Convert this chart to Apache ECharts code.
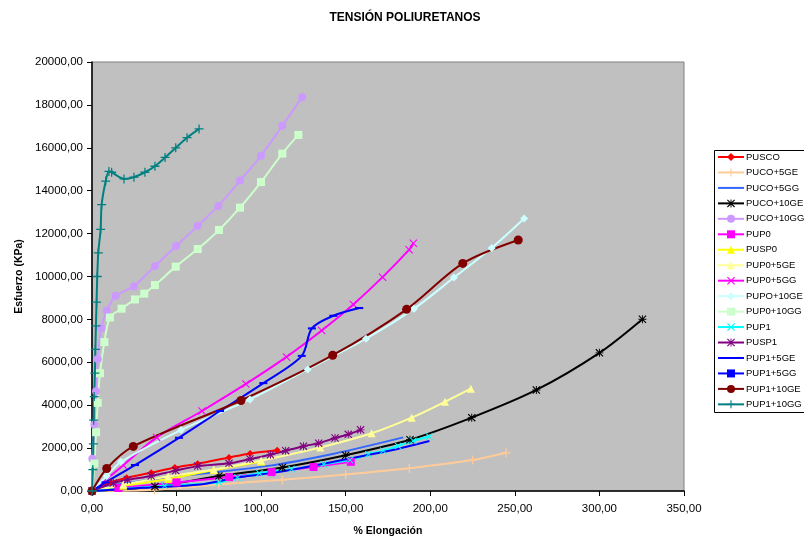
<!DOCTYPE html>
<html>
<head>
<meta charset="utf-8">
<script src="https://cdn.jsdelivr.net/npm/echarts@6/dist/echarts.min.js"></script>
<style>
  html, body { margin: 0; padding: 0; background: #ffffff; }
  #chart { width: 804px; height: 542px; }
</style>
</head>
<body>
<div id="chart"></div>
<script>
// Tensile curves for the polyurethane samples: [% elongation, stress in KPa]
const PUSCO      = [[0,0],[11,400],[20.5,620],[35,850],[49,1100],[62.5,1270],[81,1560],[93.5,1750],[109.5,1900]];
const PUCO_5GE   = [[0,0],[37,60],[75,300],[112.5,530],[150,770],[187.6,1060],[225,1440],[244.8,1780]];
const PUCO_5GG   = [[0,0],[15,300],[50,680],[103,1160],[143,1740],[184,2500]];
const PUCO_10GE  = [[0,0],[37.2,210],[75,700],[112.5,1100],[150,1670],[188,2390],[224.5,3420],[262.7,4710],[300,6440],[325.4,8010]];
const PUCO_10GG  = [[0,0],[0.2,1500],[1.4,3100],[2.4,4650],[3.4,6150],[5.5,7600],[8.7,8400],[14,9100],[24.8,9550],[37.2,10490],[49.7,11420],[62.5,12370],[74.7,13290],[87.5,14470],[99.9,15630],[112.5,17030],[124.3,18360]];
const PUP0       = [[0,0],[15.6,140],[50,400],[81,650],[106.2,880],[131,1120],[153,1360]];
const PUSP0      = [[0,0],[18.5,240],[45,560],[72,980],[100,1380]];
const PUP0_5GE   = [[0,0],[18.5,300],[45,680],[72,1000],[100,1420],[135,2030],[165.3,2690],[189,3420],[208.7,4160],[224,4770]];
const PUP0_5GG   = [[0,0],[18.5,1200],[38.2,2500],[65,3730],[91,4990],[115,6250],[135.8,7480],[154.5,8700],[171.8,9970],[187.5,11250],[190,11550]];
const PUPO_10GE  = [[0,0],[8.7,700],[17.1,1360],[52.6,2840],[93.4,4270],[127.5,5670],[162,7100],[190.4,8500],[214,9950],[236.3,11330],[255.5,12700]];
const PUP0_10GG  = [[0,0],[1.4,1280],[2.4,2740],[3.4,4110],[4.7,5490],[7.3,6940],[10.6,8090],[17.5,8500],[25.4,8930],[30.9,9200],[37.2,9600],[49.5,10460],[62.5,11280],[75.1,12170],[87.5,13210],[99.9,14400],[112.5,15730],[122,16600]];
const PUP1       = [[0,0],[43,240],[75,400],[86,630],[99,830],[118,1020],[137,1250],[152.5,1440],[163.4,1710],[172.2,1880],[181,2100],[190,2340],[199.4,2540]];
const PUSP1      = [[0,0],[12.6,370],[21,520],[35,700],[49.5,950],[62.5,1160],[81,1290],[93.4,1490],[105.5,1690],[114.5,1880],[125,2090],[134,2230],[143.7,2470],[151.5,2640],[158.8,2850]];
const PUP1_5GE   = [[0,0],[30,150],[64,300],[87.5,650],[110,880],[142.7,1360],[162.4,1670],[180,1950],[199.5,2330]];
const PUP1_5GG   = [[0,0],[8,400],[25.4,1210],[51.4,2480],[75.7,3730],[101.3,5030],[124,6300],[130,7580],[142.7,8170],[158,8530]];
const PUP1_10GE  = [[0,0],[8.7,1050],[24.4,2080],[88.1,4220],[142.3,6330],[186,8470],[219.2,10610],[252,11700]];
const PUP1_10GG  = [[0,0],[0.5,1000],[0.8,2200],[1,3300],[1.3,4400],[1.7,5500],[2,6600],[2.3,7700],[2.7,8800],[3.1,10000],[3.7,11100],[5.1,12200],[5.7,13350],[8.1,14450],[10,14900],[11.6,14860],[18.9,14550],[24.8,14630],[31.3,14860],[37.2,15140],[43.2,15550],[49.5,16000],[56.2,16470],[63.3,16880]];

const xTickLabels = ['0,00','50,00','100,00','150,00','200,00','250,00','300,00','350,00'];
const yTickLabels = ['0,00','2000,00','4000,00','6000,00','8000,00','10000,00','12000,00','14000,00','16000,00','18000,00','20000,00'];

// Marker shapes drawn as filled outlines
const SYM_PLUS  = 'path://M4.3,0h1.4v4.3h4.3v1.4h-4.3v4.3h-1.4v-4.3h-4.3v-1.4h4.3z';
const SYM_CROSS = 'path://M0,1L1,0L10,9L9,10Z M9,0L10,1L1,10L0,9Z';
const SYM_STAR  = 'path://M0,1L1,0L10,9L9,10Z M9,0L10,1L1,10L0,9Z M4.4,0h1.2v10h-1.2z M0,4.4h10v1.2h-10z';
const SYM_DASH  = 'path://M0,0h10v2.6h-10z';
// Plain lines: an empty box with a speck in the middle, so the legend shows only the stroke
const SYM_NONE  = 'path://M0,0M10,10M5,5L5.01,5L5.01,5.01Z';

const FONT = '"Liberation Sans", Arial, sans-serif';

function curve(name, data, color, symbol, size) {
  const plain = symbol === null;
  return {
    name: name,
    type: 'line',
    data: data,
    smooth: 0.3,
    symbol: plain ? SYM_NONE : symbol,
    symbolSize: plain ? 1 : size,
    symbolKeepAspect: true,
    showSymbol: !plain,
    lineStyle: { color: color, width: 2 },
    itemStyle: { color: color, borderWidth: 0 },
    emphasis: { disabled: true },
    animation: false
  };
}

const series = [
  curve('PUSCO',      PUSCO,     '#FF0000', 'diamond', 7),
  curve('PUCO+5GE',   PUCO_5GE,  '#FFCC99', SYM_PLUS, 9),
  curve('PUCO+5GG',   PUCO_5GG,  '#3366FF', null, 0),
  curve('PUCO+10GE',  PUCO_10GE, '#000000', SYM_STAR, 8),
  curve('PUCO+10GG',  PUCO_10GG, '#CC99FF', 'circle', 8),
  curve('PUP0',       PUP0,      '#FF00FF', 'rect', 8),
  curve('PUSP0',      PUSP0,     '#FFFF00', 'triangle', 8),
  curve('PUP0+5GE',   PUP0_5GE,  '#FFFF99', 'triangle', 8),
  curve('PUP0+5GG',   PUP0_5GG,  '#FF00FF', SYM_CROSS, 8),
  curve('PUPO+10GE',  PUPO_10GE, '#CCFFFF', 'diamond', 8),
  curve('PUP0+10GG',  PUP0_10GG, '#CCFFCC', 'rect', 8),
  curve('PUP1',       PUP1,      '#00FFFF', SYM_CROSS, 7),
  curve('PUSP1',      PUSP1,     '#800080', SYM_STAR, 8),
  curve('PUP1+5GE',   PUP1_5GE,  '#0000FF', null, 0),
  curve('PUP1+5GG',   PUP1_5GG,  '#0000FF', SYM_DASH, 8),
  curve('PUP1+10GE',  PUP1_10GE, '#800000', 'circle', 9),
  curve('PUP1+10GG',  PUP1_10GG, '#008080', SYM_PLUS, 9)
];

const chart = echarts.init(document.getElementById('chart'), null, { renderer: 'canvas' });
chart.setOption({
  backgroundColor: '#FFFFFF',
  animation: false,
  textStyle: { fontFamily: FONT },
  graphic: [{
    type: 'text',
    x: 405, y: 18,
    style: {
      text: 'TENSIÓN POLIURETANOS',
      font: 'bold 12px ' + FONT,
      fill: '#000000',
      align: 'center',
      verticalAlign: 'middle'
    }
  }, {
    // legend frame, running past the right edge of the canvas
    type: 'rect',
    z: -1,
    shape: { x: 714.5, y: 150.5, width: 140, height: 262 },
    style: { fill: '#FFFFFF', stroke: '#000000', lineWidth: 1 }
  }],
  grid: {
    left: 92, right: 120, top: 62, bottom: 44,
    show: true,
    backgroundColor: '#C0C0C0',
    borderColor: '#808080',
    borderWidth: 1
  },
  legend: {
    orient: 'vertical',
    left: 714, top: 150,
    padding: [2, 4, 2, 3],
    itemWidth: 26, itemHeight: 10, itemGap: 5.46,
    textStyle: { fontFamily: FONT, fontSize: 9.5, color: '#000000', padding: [0, 0, 0, -3] },
    selectedMode: false,
    data: series.map(s => s.name)
  },
  xAxis: {
    type: 'value', min: 0, max: 350, interval: 50,
    name: '% Elongación', nameLocation: 'middle', nameGap: 35,
    nameTextStyle: { fontFamily: FONT, fontSize: 10.5, fontWeight: 'bold', color: '#000' },
    axisLine: { show: true, onZero: false, lineStyle: { color: '#000000', width: 1.5 } },
    axisTick: { show: true, length: 5, lineStyle: { color: '#000000' } },
    axisLabel: { fontFamily: FONT, fontSize: 11.5, color: '#000', margin: 12,
      formatter: v => xTickLabels[Math.round(v / 50)] },
    splitLine: { show: false }
  },
  yAxis: {
    type: 'value', min: 0, max: 20000, interval: 2000,
    name: 'Esfuerzo (KPa)', nameLocation: 'middle', nameGap: 59, nameRotate: 90,
    nameTextStyle: { fontFamily: FONT, fontSize: 10.5, fontWeight: 'bold', color: '#000' },
    axisLine: { show: true, lineStyle: { color: '#000000', width: 1.5 } },
    axisTick: { show: true, length: 5, lineStyle: { color: '#000000' } },
    axisLabel: { fontFamily: FONT, fontSize: 11.5, color: '#000', margin: 9,
      formatter: v => yTickLabels[Math.round(v / 2000)] },
    splitLine: { show: false }
  },
  series: series
});
</script>
</body>
</html>
